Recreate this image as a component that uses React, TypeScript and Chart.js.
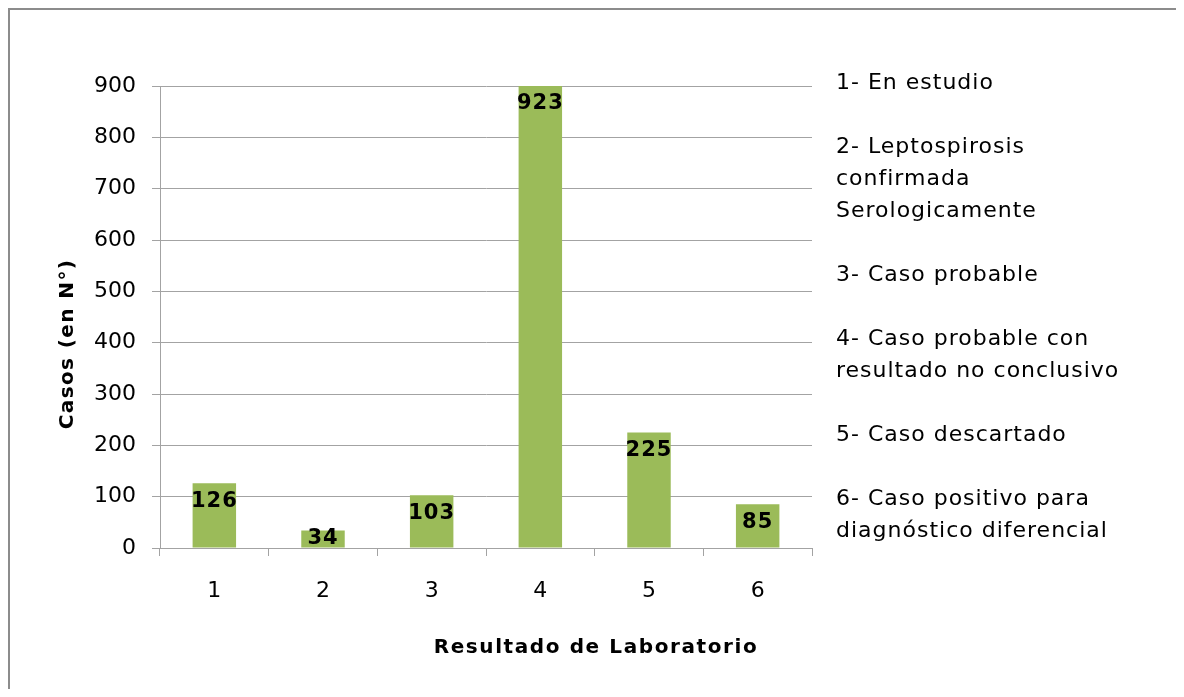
import React, { useEffect, useRef } from 'react';
import { Chart, registerables } from 'chart.js';

Chart.register(...registerables);

const categories = ['1', '2', '3', '4', '5', '6'];
const casos = [126, 34, 103, 923, 225, 85];
const yMin = 0;
const yMax = 900;
const yStep = 100;
const xTitle = 'Resultado de Laboratorio';
const yTitle = 'Casos (en N°)';
const legendLines = [
  '1- En estudio',
  '',
  '2- Leptospirosis',
  'confirmada',
  'Serologicamente',
  '',
  '3- Caso probable',
  '',
  '4- Caso probable con',
  'resultado no conclusivo',
  '',
  '5- Caso descartado',
  '',
  '6- Caso positivo para',
  'diagnóstico diferencial',
];

const FONT = "'DejaVu Sans', sans-serif";
const BAR = '#9BBB59';
const GRID = '#A3A3A3';
const FRAME = '#8C8C8C';

const W = 1176;
const H = 681;

const labelsPlugin = {
  id: 'customText',
  beforeDraw(chart: any) {
    const { ctx } = chart;
    ctx.save();
    ctx.fillStyle = FRAME;
    ctx.fillRect(0, 0, W, 2);
    ctx.fillRect(0, 0, 2, H);
    ctx.restore();
  },
  afterDatasetsDraw(chart: any) {
    const { ctx, chartArea } = chart;
    const meta = chart.getDatasetMeta(0);
    ctx.save();
    ctx.fillStyle = '#000';
    ctx.font = `bold 21px ${FONT}`;
    (ctx as any).letterSpacing = '1px';
    ctx.textAlign = 'center';
    ctx.textBaseline = 'middle';
    meta.data.forEach((el: any, i: number) => {
      const top = Math.max(el.y, chartArea.top);
      const cy = Math.min(top + 18, el.base - 9);
      ctx.fillText(String(casos[i]), el.x, cy);
    });
    ctx.restore();
  },
  afterDraw(chart: any) {
    const { ctx } = chart;
    ctx.save();
    ctx.fillStyle = '#000';
    ctx.font = `bold 20px ${FONT}`;
    (ctx as any).letterSpacing = '1.6px';
    ctx.textAlign = 'center';
    ctx.textBaseline = 'middle';
    ctx.fillText(xTitle, 588, 640);
    (ctx as any).letterSpacing = '1.4px';
    ctx.translate(60, 336);
    ctx.rotate(-Math.PI / 2);
    ctx.fillText(yTitle, 0, 0);
    ctx.restore();
  },
};

export default function App() {
  const ref = useRef<HTMLCanvasElement | null>(null);

  useEffect(() => {
    document.documentElement.style.overflow = 'hidden';
    document.body.style.overflow = 'hidden';
    if (!ref.current) return;
    Chart.defaults.font.family = FONT;
    const chart = new Chart(ref.current, {
      type: 'bar',
      data: {
        labels: categories,
        datasets: [
          {
            data: casos,
            backgroundColor: BAR,
            borderWidth: 0,
            barPercentage: 0.4,
            categoryPercentage: 1,
          },
        ],
      },
      options: {
        animation: false,
        responsive: false,
        events: [],
        layout: { padding: { left: 0, top: 78, right: W - 804, bottom: 0 } },
        plugins: {
          legend: { display: false },
          tooltip: { enabled: false },
          title: { display: false },
        },
        scales: {
          x: {
            afterFit(scale: any) {
              scale.height = H - 540;
            },
            grid: {
              display: true,
              drawOnChartArea: false,
              drawTicks: true,
              tickLength: 8,
              color: GRID,
              offset: true,
            },
            border: { display: true, color: GRID, width: 1 },
            ticks: {
              color: '#000',
              font: { size: 22, family: FONT },
              padding: 22,
              maxRotation: 0,
            },
          },
          y: {
            min: yMin,
            max: yMax,
            afterFit(scale: any) {
              scale.width = 152;
            },
            grid: {
              display: true,
              drawOnChartArea: true,
              drawTicks: true,
              tickLength: 8,
              color: GRID,
            },
            border: { display: true, color: GRID, width: 1 },
            ticks: {
              stepSize: yStep,
              color: '#000',
              font: { size: 22, family: FONT },
              padding: 16,
            },
          },
        },
      },
      plugins: [labelsPlugin],
    });
    return () => chart.destroy();
  }, []);

  return (
    <div style={{ position: 'relative', width: W, height: H, overflow: 'hidden' }}>
      <canvas ref={ref} width={W} height={H} style={{ display: 'block', position: 'absolute', left: 0, top: 0 }} />
      <div
        style={{
          position: 'absolute',
          left: 828,
          top: 58,
          fontFamily: FONT,
          fontSize: 22,
          letterSpacing: '1px',
          lineHeight: '32px',
          color: '#000',
          whiteSpace: 'pre',
        }}
      >
        {legendLines.map((l, i) => (
          <div key={i} style={{ height: 32 }}>{l || '\u00a0'}</div>
        ))}
      </div>
    </div>
  );
}
